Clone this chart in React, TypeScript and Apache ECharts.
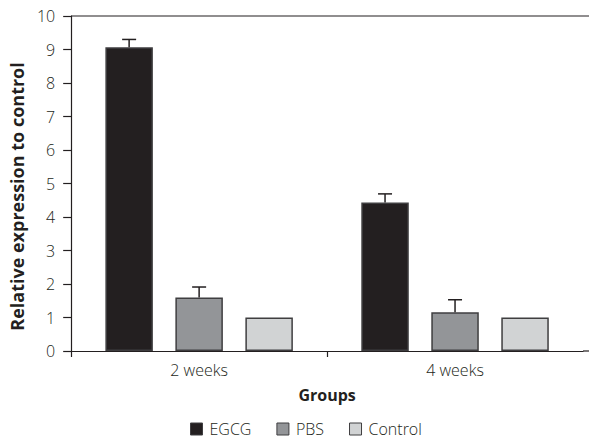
import React, { useEffect, useRef } from "react";
import * as echarts from "echarts";

const categories = ["2 weeks", "4 weeks"];
const seriesNames = ["EGCG", "PBS", "Control"];
const egcgValues = [9.07, 4.43];
const pbsValues = [1.6, 1.16];
const controlValues = [1.0, 1.0];
const egcgErrTop = [9.3, 4.69];
const pbsErrTop = [1.91, 1.53];
const controlErrTop: (number | null)[] = [null, null];
const yTicks = { min: 0, max: 10, interval: 1 };

const colors = ["#231f20", "#939598", "#d1d3d4"];
const FONT = "Open Sans";
const BAR_W = 47.5;
const BAR_GAP = 22.5;

export default function App() {
  const ref = useRef<HTMLDivElement>(null);
  useEffect(() => {
    document.body.style.margin = "0";
    const chart = echarts.init(ref.current!, null, { renderer: "svg" });
    const values = [egcgValues, pbsValues, controlValues];
    const errs = [egcgErrTop, pbsErrTop, controlErrTop];
    const barSeries = seriesNames.map((name, i) => ({
      name,
      type: "bar",
      data: values[i],
      barWidth: BAR_W,
      barGap: (BAR_GAP / BAR_W) * 100 + "%",
      itemStyle: { color: colors[i], borderColor: "#3f3e40", borderWidth: 1.5 },
      z: 2,
    }));
    const errSeries = seriesNames.map((name, i) => ({
      type: "custom",
      name: name + "-err",
      data: values[i]
        .map((v, c) => [c, v, errs[i][c]])
        .filter((d) => d[2] != null),
      encode: { x: 0, y: [1, 2] },
      z: 3,
      silent: true,
      renderItem: (params: any, api: any) => {
        const c = api.value(0);
        const v = api.value(1);
        const h = api.value(2);
        const offset = (i - 1) * (BAR_W + BAR_GAP);
        const p0 = api.coord([c, v]);
        const p1 = api.coord([c, h]);
        const x = p0[0] + offset;
        const cap = 7;
        const st = { stroke: "#231f20", lineWidth: 1.5 };
        return {
          type: "group",
          children: [
            { type: "line", shape: { x1: x, y1: p0[1], x2: x, y2: p1[1] }, style: st },
            { type: "line", shape: { x1: x - cap, y1: p1[1], x2: x + cap, y2: p1[1] }, style: st },
          ],
        };
      },
    }));
    chart.setOption({
      animation: false,
      grid: { left: 71, right: 6, top: 16, bottom: 88 },
      legend: {
        data: seriesNames,
        left: 190,
        top: 421,
        padding: 0,
        itemWidth: 12,
        itemHeight: 12,
        itemGap: 25,
        icon: "rect",
        itemStyle: { borderColor: "#3f3e40", borderWidth: 1 },
        textStyle: { fontFamily: FONT, fontSize: 16, color: "#231f20", fontWeight: 300, padding: [0, 0, 0, 2], lineHeight: 16 },
      },
      xAxis: [
        {
          type: "category",
          data: categories,
          axisLine: { lineStyle: { color: "#231f20", width: 1.2 } },
          axisTick: { show: false },
          axisLabel: { fontFamily: FONT, fontSize: 16, color: "#231f20", fontWeight: 300, margin: 11 },
          name: "Groups",
          nameLocation: "middle",
          nameGap: 36,
          nameTextStyle: { fontFamily: FONT, fontSize: 16, fontWeight: "bold", color: "#231f20" },
        },
        {
          type: "value",
          min: 0,
          max: 2,
          interval: 1,
          position: "bottom",
          axisLine: { show: false },
          axisLabel: { show: false },
          splitLine: { show: false },
          axisTick: { show: true, length: 6, customValues: [0, 1], lineStyle: { color: "#231f20", width: 1.2 } },
        },
      ],
      yAxis: {
        type: "value",
        min: yTicks.min,
        max: yTicks.max,
        interval: yTicks.interval,
        axisLine: { show: true, lineStyle: { color: "#231f20", width: 1.2 } },
        axisTick: { show: true, length: 8, lineStyle: { color: "#231f20", width: 1.2 } },
        splitLine: { show: false },
        axisLabel: { fontFamily: FONT, fontSize: 16, color: "#231f20", fontWeight: 300, margin: 16 },
        name: "Relative expression to control",
        nameLocation: "middle",
        nameGap: 39,
        nameTextStyle: { fontFamily: FONT, fontSize: 18, fontWeight: "bold", color: "#231f20", padding: [0, 26, 0, 0] },
      },
      graphic: [
        { type: "line", shape: { x1: 71, y1: 16, x2: 589, y2: 16 }, style: { stroke: "#231f20", lineWidth: 1.2 } },
        { type: "line", shape: { x1: 583, y1: 351, x2: 589, y2: 351 }, style: { stroke: "#231f20", lineWidth: 1.2 } },
      ],
      series: [...barSeries, ...errSeries],
    });
    return () => chart.dispose();
  }, []);
  return <div ref={ref} style={{ width: 589, height: 439 }} />;
}
